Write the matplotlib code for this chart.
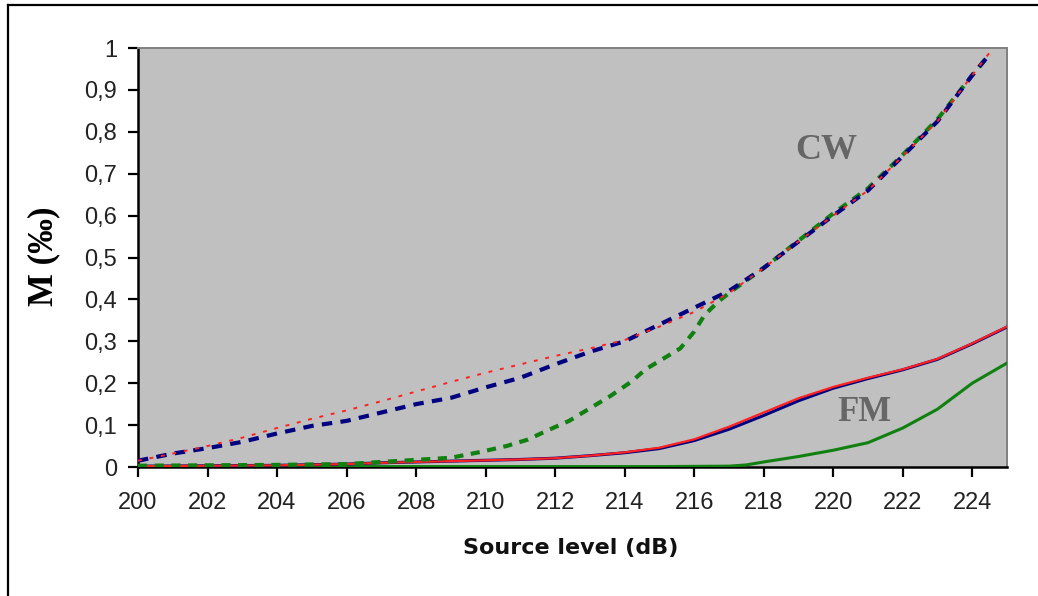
import matplotlib
matplotlib.use('Agg')
import matplotlib.pyplot as plt
from matplotlib.lines import Line2D

""" --- data read off the picture --- """
cw_red_x = [200, 201, 202, 203, 204, 205, 206, 207, 208, 209, 210, 211, 212,
            213, 214, 215, 216, 217, 218, 219, 220, 221, 222, 223, 224, 224.6]
cw_red_y = [0.015, 0.032, 0.05, 0.07, 0.093, 0.115, 0.135, 0.157, 0.18, 0.203,
            0.225, 0.245, 0.265, 0.283, 0.303, 0.335, 0.37, 0.415, 0.475, 0.538,
            0.6, 0.66, 0.742, 0.825, 0.935, 1.0]

cw_blue_x = [200, 201, 202, 203, 204, 205, 206, 207, 208, 209, 210, 211, 212,
             213, 214, 215, 216, 217, 218, 219, 220, 221, 222, 223, 224, 224.5]
cw_blue_y = [0.015, 0.032, 0.045, 0.06, 0.08, 0.098, 0.11, 0.13, 0.15, 0.165,
             0.19, 0.213, 0.245, 0.275, 0.3, 0.34, 0.38, 0.42, 0.475, 0.538,
             0.6, 0.66, 0.742, 0.825, 0.935, 0.985]

cw_green_x = [200, 202, 204, 206, 207, 208, 209, 209.8, 210.6, 211.2, 211.8,
              212.4, 213, 213.6, 214.2, 214.6, 215, 215.6, 216, 216.3, 216.7,
              217, 218, 219, 220, 221, 222, 223, 224, 224.5]
cw_green_y = [0.003, 0.004, 0.005, 0.007, 0.012, 0.017, 0.022, 0.035, 0.05,
              0.065, 0.088, 0.11, 0.14, 0.17, 0.204, 0.233, 0.253, 0.283, 0.323,
              0.363, 0.395, 0.415, 0.475, 0.54, 0.605, 0.665, 0.745, 0.83, 0.935,
              0.985]

fm_x = [200, 202, 204, 206, 207, 208, 209, 210, 211, 212, 213, 214, 215, 216,
        217, 218, 219, 220, 221, 222, 223, 224, 225]
fm_red_y = [0.002, 0.003, 0.004, 0.007, 0.01, 0.012, 0.014, 0.016, 0.018, 0.021,
            0.027, 0.035, 0.046, 0.066, 0.096, 0.13, 0.164, 0.191, 0.213, 0.233,
            0.258, 0.295, 0.335]
fm_blue_y = [0.002, 0.003, 0.004, 0.007, 0.01, 0.012, 0.014, 0.016, 0.018,
             0.021, 0.027, 0.034, 0.044, 0.063, 0.09, 0.123, 0.158, 0.188, 0.211,
             0.232, 0.257, 0.294, 0.334]

fm_green_x = [200, 205, 210, 215, 217, 217.5, 218, 219, 220, 221, 222, 223,
              224, 225]
fm_green_y = [0.001, 0.001, 0.001, 0.001, 0.002, 0.005, 0.012, 0.025, 0.04,
              0.058, 0.093, 0.138, 0.2, 0.248]

x_ticks = list(range(200, 225, 2))
y_ticks = [i / 10 for i in range(11)]
y_tick_labels = ['0'] + ['0,%d' % i for i in range(1, 10)] + ['1']

RED = '#ff2020'
BLUE = '#000080'
GREEN = '#108010'


def main_plot():
    fig = plt.figure(figsize=(10.38, 5.96), dpi=100)
    ax = fig.add_axes([138 / 1038, 129 / 596, 869 / 1038, 419 / 596])
    ax.set_facecolor('#c0c0c0')

    # outer frame of the picture (only left and top edge are visible)
    fig.add_artist(Line2D([8 / 1038, 8 / 1038], [0, 1 - 5 / 596],
                          color='black', lw=1.6, transform=fig.transFigure))
    fig.add_artist(Line2D([8 / 1038, 1], [1 - 5 / 596, 1 - 5 / 596],
                          color='black', lw=1.6, transform=fig.transFigure))

    # FM group
    ax.plot(fm_green_x, fm_green_y, color=GREEN, lw=2.2, zorder=3)
    ax.plot(fm_x, fm_blue_y, color=BLUE, lw=2.2, zorder=3)
    ax.plot(fm_x, fm_red_y, color=RED, lw=1.6, zorder=4)

    # CW group
    ax.plot(cw_green_x, cw_green_y, color=GREEN, lw=3, dashes=(2.2, 1.8),
            zorder=5)
    ax.plot(cw_blue_x, cw_blue_y, color=BLUE, lw=3, dashes=(2.5, 2.0), zorder=6)
    ax.plot(cw_red_x, cw_red_y, color=RED, lw=1.4, dashes=(2, 4), zorder=7)

    ax.set_xlim(200, 225)
    ax.set_ylim(0, 1)
    ax.set_xticks(x_ticks)
    ax.set_yticks(y_ticks)
    ax.set_yticklabels(y_tick_labels)

    for lab in ax.get_xticklabels() + ax.get_yticklabels():
        lab.set_fontfamily(['Liberation Sans Narrow', 'Liberation Sans'])
        lab.set_fontsize(17)
        lab.set_color('#222222')
    ax.tick_params(axis='x', direction='out', length=7, width=1.6, pad=11)
    ax.tick_params(axis='y', direction='out', length=7, width=1.6, pad=8)

    for side in ['left', 'bottom']:
        ax.spines[side].set_color('black')
        ax.spines[side].set_linewidth(1.8)
    for side in ['top', 'right']:
        ax.spines[side].set_color('#808080')
        ax.spines[side].set_linewidth(1.4)

    fig.text(571 / 1038, 1 - 548 / 596, 'Source level (dB)', ha='center',
             va='center', fontsize=16, fontweight='bold', family='DejaVu Sans',
             color='#111111')
    fig.text(44 / 1038, 1 - 256 / 596, 'M (\u2030)', ha='center', va='center',
             rotation=90, fontsize=25, fontweight='bold',
             family=['Liberation Serif', 'DejaVu Serif'], color='black')

    ax.text(219.8, 0.755, 'CW', ha='center', va='center', fontsize=26,
            fontweight='bold', family='Liberation Serif', color='#666666')
    ax.text(220.9, 0.131, 'FM', ha='center', va='center', fontsize=25,
            fontweight='bold', family='Liberation Serif', color='#666666')

    fig.savefig('out.png', dpi=100)


if __name__ == '__main__':
    main_plot()
